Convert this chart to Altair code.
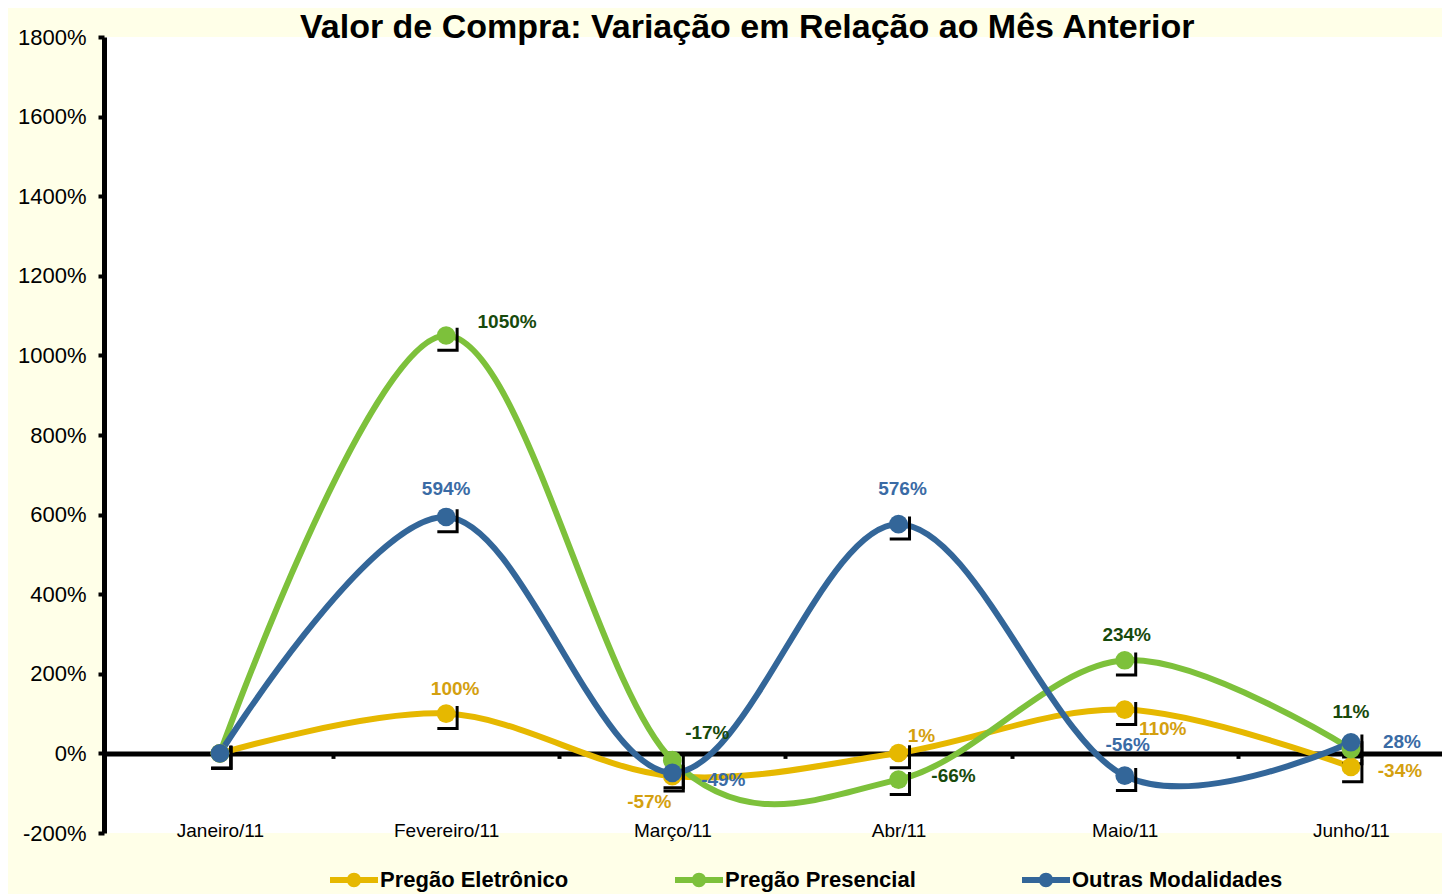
import altair as alt
import pandas as pd

months = ["Janeiro/11", "Fevereiro/11", "Março/11", "Abr/11", "Maio/11", "Junho/11"]
series = ["Pregão Eletrônico", "Pregão Presencial", "Outras Modalidades"]
eletronico = [0, 100, -57, 1, 110, -34]
presencial = [0, 1050, -17, -66, 234, 11]
outras = [0, 594, -49, 576, -56, 28]
y_ticks = [-200, 0, 200, 400, 600, 800, 1000, 1200, 1400, 1600, 1800]

line_colors = ["#E6B800", "#7DC13B", "#336699"]
label_colors = ["#D4A00F", "#174A0C", "#3A6BA5"]

# label placement (dx, dy) in pixels relative to each point; Janeiro has no label
label_offsets = {
    ("Pregão Eletrônico", "Fevereiro/11"): (9, -25),
    ("Pregão Eletrônico", "Março/11"): (-23, 26),
    ("Pregão Eletrônico", "Abr/11"): (23, -17),
    ("Pregão Eletrônico", "Maio/11"): (38, 19),
    ("Pregão Eletrônico", "Junho/11"): (49, 4),
    ("Pregão Presencial", "Fevereiro/11"): (61, -14),
    ("Pregão Presencial", "Março/11"): (35, -27),
    ("Pregão Presencial", "Abr/11"): (55, -4),
    ("Pregão Presencial", "Maio/11"): (2, -25),
    ("Pregão Presencial", "Junho/11"): (0, -37),
    ("Outras Modalidades", "Fevereiro/11"): (0, -28),
    ("Outras Modalidades", "Março/11"): (51, 7),
    ("Outras Modalidades", "Abr/11"): (4, -35),
    ("Outras Modalidades", "Maio/11"): (3, -31),
    ("Outras Modalidades", "Junho/11"): (51, 0),
}

rows = []
for s, vals in zip(series, [eletronico, presencial, outras]):
    for m, v in zip(months, vals):
        rows.append({"serie": s, "mes": m, "valor": v, "label": f"{v}%"})
df = pd.DataFrame(rows)

FONT = "Liberation Sans"
W, H = 1338, 796

legend_symbol = ("M -1 -0.125 L 1 -0.125 L 1 0.125 L -1 0.125 Z "
                 "M 0.3 0 A 0.3 0.3 0 1 1 -0.3 0 A 0.3 0.3 0 1 1 0.3 0 Z")


def x_enc():
    return alt.X(
        "mes:N", sort=months,
        scale=alt.Scale(type="point", padding=0.4576, align=0.56),
        axis=alt.Axis(
            title=None, offset=-79.6, domainWidth=5, domainColor="black",
            tickColor="black", tickWidth=4, tickSize=5, tickOffset=113,
            labelOffset=-113, labelPadding=63, labelFontSize=19, labelFont=FONT,
            labelColor="black", labelAngle=0, grid=False,
        ),
    )


def y_enc():
    return alt.Y(
        "valor:Q",
        scale=alt.Scale(domain=[-200, 1800], nice=False, zero=False),
        axis=alt.Axis(
            title=None, values=y_ticks, labelExpr="datum.value + '%'",
            domainWidth=5, domainColor="black", tickColor="black", tickWidth=4,
            tickSize=6, labelPadding=12, labelFontSize=22, labelFont=FONT,
            labelColor="black", grid=False,
        ),
    )


color_enc = alt.Color(
    "serie:N",
    scale=alt.Scale(domain=series, range=line_colors),
    legend=alt.Legend(
        title=None, orient="none", legendX=226, legendY=819, direction="horizontal",
        symbolType=legend_symbol, symbolSize=2304, symbolStrokeWidth=0,
        symbolOpacity=1,
        labelFont=FONT, labelFontSize=22, labelFontWeight="bold", labelColor="black",
        labelOffset=2, columnPadding=106, labelLimit=400, padding=0,
    ),
    sort=series,
)

base = alt.Chart(df)

lines = base.mark_line(interpolate="cardinal", strokeWidth=6).encode(
    x=x_enc(), y=y_enc(), color=color_enc, detail="serie:N"
)

brackets = base.mark_point(
    shape="M 1 -0.7 L 1 1.35 L -0.8 1.35", filled=False, stroke="black",
    strokeWidth=3, size=484, opacity=1,
).encode(x=x_enc(), y=y_enc())

points = base.mark_point(filled=True, shape="circle", size=350, opacity=1).encode(
    x=x_enc(), y=y_enc(), color=color_enc
)

label_layers = []
for (s, m), (dx, dy) in label_offsets.items():
    col = label_colors[series.index(s)]
    label_layers.append(
        base.transform_filter(
            (alt.datum.serie == s) & (alt.datum.mes == m)
        ).mark_text(
            dx=dx, dy=dy, fontSize=19, fontWeight="bold", font=FONT, color=col
        ).encode(x=x_enc(), y=y_enc(), text="label:N")
    )

chart = alt.layer(lines, brackets, points, *label_layers).properties(
    width=W, height=H,
    title=alt.Title(
        "Valor de Compra: Variação em Relação ao Mês Anterior",
        fontSize=34, font=FONT, fontWeight="bold", color="black",
        anchor="start", frame="group", dx=196, offset=-19,
    ),
    background="#FFFFE8",
    padding={"left": 96, "top": 29, "right": 0, "bottom": 61},
    autosize=alt.AutoSizeParams(type="none"),
).configure_view(fill="white", stroke=None)

chart.save("out.html", embed_options={"renderer": "svg", "actions": False})
